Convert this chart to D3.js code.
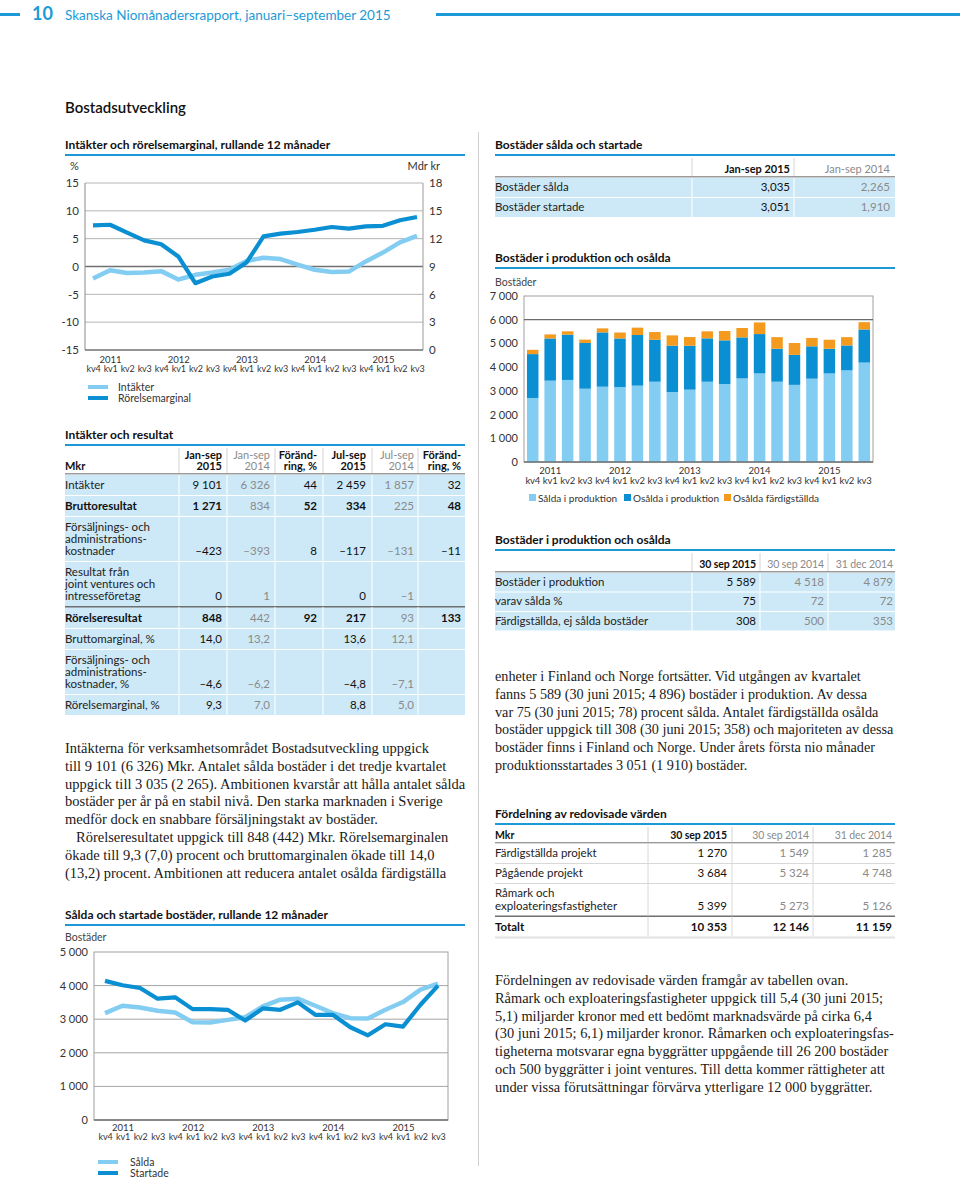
<!DOCTYPE html>
<html>
<head>
<meta charset="utf-8">
<script src="https://cdn.jsdelivr.net/npm/d3@7"></script>
<style>
  body { margin: 0; background: #fff; }
  svg { display: block; }
</style>
</head>
<body>
<svg id="page" width="960" height="1178"></svg>
<script>
// ---- data ----
var quarters = ["kv4","kv1","kv2","kv3","kv4","kv1","kv2","kv3","kv4","kv1","kv2","kv3","kv4","kv1","kv2","kv3","kv4","kv1","kv2","kv3"];
var years = ["2011","2012","2013","2014","2015"];

// Intäkter (Mdr kr, right axis) and rörelsemarginal (%, left axis), rullande 12 mån
var intakter = [7.7, 8.6, 8.3, 8.35, 8.5, 7.6, 8.1, 8.35, 8.65, 9.6, 9.95, 9.8, 9.2, 8.65, 8.4, 8.45, 9.55, 10.5, 11.6, 12.3];
var rorelsemarginal = [7.4, 7.5, 6.1, 4.7, 4.0, 1.8, -3.0, -1.8, -1.3, 0.7, 5.4, 5.9, 6.2, 6.6, 7.1, 6.8, 7.2, 7.3, 8.3, 8.9];

// Bostäder i produktion och osålda (stacked)
var saldaIProd   = [2700, 3430, 3460, 3090, 3175, 3160, 3220, 3385, 2950, 3050, 3385, 3290, 3525, 3735, 3385, 3253, 3513, 3735, 3865, 4192];
var osaldaIProd  = [1850, 1780, 1910, 1930, 2290, 2050, 2135, 1770, 1955, 1855, 1830, 1840, 1730, 1660, 1390, 1265, 1366, 1040, 1050, 1397];
var osaldaFardig = [ 180,  170,  140,  140,  170,  250,  310,  325,  435,  365,  295,  395,  395,  490,  490,  500,  353,  380,  350,  308];

// Sålda och startade bostäder, rullande 12 mån
var salda    = [3180, 3400, 3350, 3250, 3200, 2910, 2900, 2980, 3060, 3380, 3580, 3610, 3400, 3180, 3030, 3020, 3280, 3510, 3880, 4060];
var startade = [4140, 4010, 3930, 3610, 3650, 3300, 3300, 3280, 2960, 3320, 3280, 3500, 3130, 3130, 2760, 2520, 2850, 2780, 3430, 4000];

var soldHead = [["Jan-sep 2015"], ["Jan-sep 2014"]];
var soldRows = [
  {label: ["Bostäder sålda"], vals: ["3,035", "2,265"]},
  {label: ["Bostäder startade"], vals: ["3,051", "1,910"]}
];

var resHead = [["Jan-sep","2015"],["Jan-sep","2014"],["Föränd-","ring, %"],["Jul-sep","2015"],["Jul-sep","2014"],["Föränd-","ring, %"]];
var resRows = [
  {label: ["Intäkter"], vals: ["9 101","6 326","44","2 459","1 857","32"]},
  {label: ["Bruttoresultat"], vals: ["1 271","834","52","334","225","48"], bold: true},
  {label: ["Försäljnings- och","administrations-","kostnader"], vals: ["–423","–393","8","–117","–131","–11"]},
  {label: ["Resultat från","joint ventures och","intresseföretag"], vals: ["0","1","","0","–1",""]},
  {label: ["Rörelseresultat"], vals: ["848","442","92","217","93","133"], bold: true, rule: true},
  {label: ["Bruttomarginal, %"], vals: ["14,0","13,2","","13,6","12,1",""]},
  {label: ["Försäljnings- och","administrations-","kostnader, %"], vals: ["–4,6","–6,2","","–4,8","–7,1",""]},
  {label: ["Rörelsemarginal, %"], vals: ["9,3","7,0","","8,8","5,0",""]}
];

var prodHead = [["30 sep 2015"],["30 sep 2014"],["31 dec 2014"]];
var prodRows = [
  {label: ["Bostäder i produktion"], vals: ["5 589","4 518","4 879"]},
  {label: ["varav sålda %"], vals: ["75","72","72"]},
  {label: ["Färdigställda, ej sålda bostäder"], vals: ["308","500","353"]}
];

var fordHead = [["30 sep 2015"],["30 sep 2014"],["31 dec 2014"]];
var fordRows = [
  {label: ["Färdigställda projekt"], vals: ["1 270","1 549","1 285"]},
  {label: ["Pågående projekt"], vals: ["3 684","5 324","4 748"]},
  {label: ["Råmark och","exploateringsfastigheter"], vals: ["5 399","5 273","5 126"]},
  {label: ["Totalt"], vals: ["10 353","12 146","11 159"], bold: true, black: true, rule: true}
];

var textLeft = [
  "Intäkterna för verksamhetsområdet Bostadsutveckling uppgick",
  "till 9 101 (6 326) Mkr. Antalet sålda bostäder i det tredje kvartalet",
  "uppgick till 3 035 (2 265). Ambitionen kvarstår att hålla antalet sålda",
  "bostäder per år på en stabil nivå. Den starka marknaden i Sverige",
  "medför dock en snabbare försäljningstakt av bostäder.",
  "Rörelseresultatet uppgick till 848 (442) Mkr. Rörelsemarginalen",
  "ökade till 9,3 (7,0) procent och bruttomarginalen ökade till 14,0",
  "(13,2) procent. Ambitionen att reducera antalet osålda färdigställa"
];
var textRight1 = [
  "enheter i Finland och Norge fortsätter. Vid utgången av kvartalet",
  "fanns 5 589 (30 juni 2015; 4 896) bostäder i produktion. Av dessa",
  "var 75 (30 juni 2015; 78) procent sålda. Antalet färdigställda osålda",
  "bostäder uppgick till 308 (30 juni 2015; 358) och majoriteten av dessa",
  "bostäder finns i Finland och Norge. Under årets första nio månader",
  "produktionsstartades 3 051 (1 910) bostäder."
];
var textRight2 = [
  "Fördelningen av redovisade värden framgår av tabellen ovan.",
  "Råmark och exploateringsfastigheter uppgick till 5,4 (30 juni 2015;",
  "5,1) miljarder kronor med ett bedömt marknadsvärde på cirka 6,4",
  "(30 juni 2015; 6,1) miljarder kronor. Råmarken och exploateringsfas-",
  "tigheterna motsvarar egna byggrätter uppgående till 26 200 bostäder",
  "och 500 byggrätter i joint ventures. Till detta kommer rättigheter att",
  "under vissa förutsättningar förvärva ytterligare 12 000 byggrätter."
];

// ---- style ----
var SANS = "Lato, 'Open Sans', 'DejaVu Sans', sans-serif";
var SERIF = "'Liberation Serif', 'DejaVu Serif', serif";
var BLUE = "#1b9ad7", LIGHT = "#82cdf1", DARK = "#0b8fd3", ORANGE = "#f39a1f";
var CELL = "#cde9f8", GREY = "#8a8a8a", INK = "#222";

var loc = d3.formatLocale({decimal: ",", thousands: " ", grouping: [3], currency: ["", ""], minus: "-"});
var fmt = loc.format(",d");

var svg = d3.select("#page");

function txt(g, x, y, s, o) {
  o = o || {};
  return g.append("text")
    .attr("x", x).attr("y", y)
    .attr("font-family", o.family || SANS)
    .attr("font-size", o.size || 11.5)
    .attr("font-weight", o.bold ? "bold" : null)
    .attr("letter-spacing", o.ls || null)
    .attr("fill", o.fill || INK)
    .attr("text-anchor", o.anchor || "start")
    .text(s);
}

function sectionTitle(x, y, w, s) {
  txt(svg, x, y, s, {bold: true, size: 12, fill: "#111"});
  svg.append("rect").attr("x", x).attr("y", y + 5).attr("width", w).attr("height", 2).attr("fill", BLUE);
}

function styleAxis(g, size, ls) {
  g.select(".domain").remove();
  g.attr("font-family", SANS).attr("font-size", size || 11);
  g.selectAll("text").attr("fill", "#333").attr("letter-spacing", ls || null);
}

function drawTable(o) {
  var g = svg.append("g");
  var y = o.top;
  o.head.forEach(function(h, i) {
    var c = o.cols[i];
    h.forEach(function(line, j) {
      txt(g, c.r, y + o.headH - 4 - (h.length - 1 - j) * 11, line,
        {anchor: "end", bold: !c.grey, fill: c.grey ? GREY : "#111", size: o.headSize, ls: o.headLs});
    });
    g.append("line").attr("x1", c.sep).attr("x2", c.sep)
      .attr("y1", y + 1).attr("y2", y + o.headH).attr("stroke", "#d4d4d4");
  });
  if (o.headLabel) txt(g, o.x, y + o.headH - 4, o.headLabel, {bold: true, fill: "#111", size: o.headSize});
  y += o.headH;
  g.append("rect").attr("x", o.x).attr("y", y - 1).attr("width", o.w).attr("height", 1.5).attr("fill", "#9a9a9a");
  o.rows.forEach(function(r) {
    var h = o.rowH + o.lh * (r.label.length - 1);
    if (r.rule) {
      h += 1;
    }
    g.append("rect").attr("x", o.x).attr("y", y + 1).attr("width", o.w).attr("height", h - 1)
      .attr("fill", o.bg);
    if (r.rule) {
      g.append("rect").attr("x", o.x).attr("y", y).attr("width", o.w).attr("height", 1.5).attr("fill", "#6f6f6f");
    } else if (o.bg === "#fff") {
      g.append("line").attr("x1", o.x).attr("x2", o.x + o.w).attr("y1", y + 0.5).attr("y2", y + 0.5).attr("stroke", "#d8d8d8");
    }
    o.cols.forEach(function(c) {
      g.append("line").attr("x1", c.sep).attr("x2", c.sep).attr("y1", y + 1).attr("y2", y + h)
        .attr("stroke", o.bg === "#fff" ? "#d8d8d8" : "#fff");
    });
    var base = y + h - 6;
    r.label.forEach(function(line, j) {
      txt(g, o.x, base - (r.label.length - 1 - j) * o.lh, line, {bold: r.bold, fill: r.bold ? "#111" : INK});
    });
    r.vals.forEach(function(v, i) {
      var c = o.cols[i];
      var grey = c.grey && !r.black;
      txt(g, c.r, base, v, {anchor: "end", bold: r.bold && !grey, fill: grey ? GREY : "#111"});
    });
    y += h;
  });
  if (o.bottom) {
    g.append("rect").attr("x", o.x).attr("y", y).attr("width", o.w).attr("height", 2).attr("fill", "#e2e2e2");
  }
}

function paragraph(lines, x, y0, size, indentIdx) {
  lines.forEach(function(s, i) {
    txt(svg, x + (i === indentIdx ? 11 : 0), y0 + i * 17.8, s, {family: SERIF, size: size, fill: "#1a1a1a"});
  });
}

// ---- page header ----
svg.append("rect").attr("x", 0).attr("y", 13).attr("width", 20).attr("height", 3).attr("fill", BLUE);
svg.append("rect").attr("x", 436).attr("y", 13).attr("width", 524).attr("height", 3).attr("fill", BLUE);
txt(svg, 32, 20, "10", {bold: true, size: 18, fill: BLUE});
txt(svg, 65, 19.5, "Skanska Niomånadersrapport, januari–september 2015", {size: 13.5, fill: BLUE});
txt(svg, 65, 113, "Bostadsutveckling", {size: 15, fill: "#111"}).attr("font-weight", 600);

// column divider
svg.append("line").attr("x1", 478.5).attr("x2", 478.5).attr("y1", 132).attr("y2", 1166).attr("stroke", "#cfcfcf");

// ---- chart 1: Intäkter och rörelsemarginal ----
sectionTitle(65, 149, 400, "Intäkter och rörelsemarginal, rullande 12 månader");
var c1 = {l: 85, r: 423, t: 183, b: 350};
var x1 = d3.scalePoint().domain(d3.range(quarters.length)).range([93, 417]);
var yL = d3.scaleLinear().domain([-15, 15]).range([c1.b, c1.t]);
var yR = d3.scaleLinear().domain([0, 18]).range([c1.b, c1.t]);

txt(svg, 70, 170, "%", {size: 11, fill: "#333"});
txt(svg, 440, 170, "Mdr kr", {size: 11, fill: "#333", anchor: "end"});

svg.append("g").selectAll("line").data([-10, -5, 5, 10, 15]).enter().append("line")
  .attr("x1", c1.l).attr("x2", c1.r).attr("y1", function(d) { return yL(d); }).attr("y2", function(d) { return yL(d); })
  .attr("stroke", "#b5b5b5");
svg.append("line").attr("x1", c1.l).attr("x2", c1.r).attr("y1", yL(0)).attr("y2", yL(0)).attr("stroke", "#707070").attr("stroke-width", 1.3);
svg.append("line").attr("x1", c1.l).attr("x2", c1.l).attr("y1", c1.t).attr("y2", c1.b).attr("stroke", "#8a8a8a");
svg.append("line").attr("x1", c1.r).attr("x2", c1.r).attr("y1", c1.t).attr("y2", c1.b).attr("stroke", "#9a9a9a");
svg.append("line").attr("x1", c1.l).attr("x2", c1.r).attr("y1", c1.b).attr("y2", c1.b).attr("stroke", "#707070").attr("stroke-width", 1.3);

var aL = svg.append("g").attr("transform", "translate(" + c1.l + ",0)")
  .call(d3.axisLeft(yL).tickValues(d3.range(-15, 16, 5)).tickSize(0).tickPadding(6).tickFormat(loc.format("d")));
styleAxis(aL, 11.5);
var aR = svg.append("g").attr("transform", "translate(" + c1.r + ",0)")
  .call(d3.axisRight(yR).tickValues(d3.range(0, 19, 3)).tickSize(0).tickPadding(6).tickFormat(loc.format("d")));
styleAxis(aR, 11.5);

var q1 = svg.append("g").attr("transform", "translate(0," + c1.b + ")")
  .call(d3.axisBottom(x1).tickSize(0).tickPadding(16).tickFormat(function(i) { return quarters[i]; }));
styleAxis(q1, 9, -0.2);
var y1a = svg.append("g").attr("transform", "translate(0," + c1.b + ")")
  .call(d3.axisBottom(x1).tickValues([1, 5, 9, 13, 17]).tickSize(0).tickPadding(6)
    .tickFormat(function(i) { return years[(i - 1) / 4]; }));
styleAxis(y1a, 9.5);

svg.append("path").datum(intakter)
  .attr("d", d3.line().x(function(d, i) { return x1(i); }).y(function(d) { return yR(d); }))
  .attr("fill", "none").attr("stroke", LIGHT).attr("stroke-width", 4.5).attr("stroke-linejoin", "round");
svg.append("path").datum(rorelsemarginal)
  .attr("d", d3.line().x(function(d, i) { return x1(i); }).y(function(d) { return yL(d); }))
  .attr("fill", "none").attr("stroke", DARK).attr("stroke-width", 4.2).attr("stroke-linejoin", "round");

[["Intäkter", LIGHT], ["Rörelsemarginal", DARK]].forEach(function(d, i) {
  var yy = 387 + i * 11;
  svg.append("line").attr("x1", 88).attr("x2", 108).attr("y1", yy).attr("y2", yy).attr("stroke", d[1]).attr("stroke-width", 4);
  txt(svg, 118, yy + 4, d[0], {size: 10.5, fill: "#333"});
});

// ---- table: Bostäder sålda och startade ----
sectionTitle(495, 149, 400, "Bostäder sålda och startade");
drawTable({x: 495, w: 400, top: 157, headH: 20, rowH: 20, lh: 12, bg: CELL, headSize: 11,
  head: soldHead, rows: soldRows,
  cols: [{r: 790, sep: 692}, {r: 890, sep: 794, grey: true}]});

// ---- chart 2: Bostäder i produktion och osålda ----
sectionTitle(495, 262, 400, "Bostäder i produktion och osålda");
txt(svg, 495, 286, "Bostäder", {size: 10.5, fill: "#444"});
var c2 = {l: 524, r: 873, t: 296, b: 462};
var xb = d3.scaleBand().domain(d3.range(quarters.length)).range([c2.l, c2.r]).paddingInner(0.34).paddingOuter(0.17);
var yb = d3.scaleLinear().domain([0, 7000]).range([c2.b, c2.t]);
var stackRows = quarters.map(function(q, i) {
  return {i: i, s: saldaIProd[i], u: osaldaIProd[i], f: osaldaFardig[i]};
});
var series = d3.stack().keys(["s", "u", "f"])(stackRows);
var barColors = {s: LIGHT, u: DARK, f: ORANGE};

svg.append("rect").attr("x", c2.l).attr("y", c2.t).attr("width", c2.r - c2.l).attr("height", c2.b - c2.t)
  .attr("fill", "none").attr("stroke", "#a0a0a0");
svg.append("line").attr("x1", c2.l).attr("x2", c2.r).attr("y1", yb(6000)).attr("y2", yb(6000)).attr("stroke", "#6a6a6a").attr("stroke-width", 1.2);

svg.append("g").selectAll("g").data(series).enter().append("g")
  .attr("fill", function(d) { return barColors[d.key]; })
  .selectAll("rect").data(function(d) { return d; }).enter().append("rect")
  .attr("x", function(d) { return xb(d.data.i); })
  .attr("width", xb.bandwidth())
  .attr("y", function(d) { return yb(d[1]); })
  .attr("height", function(d) { return yb(d[0]) - yb(d[1]); });
svg.append("line").attr("x1", c2.l).attr("x2", c2.r).attr("y1", c2.b).attr("y2", c2.b).attr("stroke", "#707070").attr("stroke-width", 1.3);

var ab = svg.append("g").attr("transform", "translate(" + c2.l + ",0)")
  .call(d3.axisLeft(yb).tickValues(d3.range(0, 7001, 1000)).tickSize(0).tickPadding(6).tickFormat(fmt));
styleAxis(ab, 11);
var qb = svg.append("g").attr("transform", "translate(0," + c2.b + ")")
  .call(d3.axisBottom(xb).tickSize(0).tickPadding(15).tickFormat(function(i) { return quarters[i]; }));
styleAxis(qb, 9.5, -0.2);
var ybA = svg.append("g").attr("transform", "translate(0," + c2.b + ")")
  .call(d3.axisBottom(xb).tickValues([1, 5, 9, 13, 17]).tickSize(0).tickPadding(5)
    .tickFormat(function(i) { return years[(i - 1) / 4]; }));
styleAxis(ybA, 9.5);

[["Sålda i produktion", LIGHT, 529], ["Osålda i produktion", DARK, 624], ["Osålda färdigställda", ORANGE, 724]].forEach(function(d) {
  svg.append("rect").attr("x", d[2]).attr("y", 494).attr("width", 7).attr("height", 7).attr("fill", d[1]);
  txt(svg, d[2] + 9, 502, d[0], {size: 10, fill: "#333"});
});

// ---- table: Intäkter och resultat ----
sectionTitle(65, 439, 400, "Intäkter och resultat");
drawTable({x: 65, w: 400, top: 447, headH: 27, rowH: 21, lh: 12, bg: CELL, headLabel: "Mkr", headSize: 11,
  head: resHead, rows: resRows,
  cols: [{r: 222, sep: 179}, {r: 270, sep: 227, grey: true}, {r: 317, sep: 275},
         {r: 366, sep: 323}, {r: 414, sep: 372, grey: true}, {r: 461, sep: 418}]});

// ---- table: Bostäder i produktion och osålda ----
sectionTitle(495, 544, 400, "Bostäder i produktion och osålda");
drawTable({x: 495, w: 400, top: 552, headH: 20, rowH: 19.5, lh: 12, bg: CELL, headSize: 10.5, headLs: -0.1,
  head: prodHead, rows: prodRows,
  cols: [{r: 756, sep: 692}, {r: 824, sep: 760, grey: true}, {r: 893, sep: 828, grey: true}]});

// ---- table: Fördelning av redovisade värden ----
sectionTitle(495, 818, 400, "Fördelning av redovisade värden");
drawTable({x: 495, w: 400, top: 826, headH: 17, rowH: 20, lh: 12.5, bg: "#fff", headLabel: "Mkr", bottom: true,
  headSize: 10.5, headLs: -0.1,
  head: fordHead, rows: fordRows,
  cols: [{r: 727, sep: 648}, {r: 809, sep: 732, grey: true}, {r: 892, sep: 813, grey: true}]});

// ---- body text ----
paragraph(textLeft, 65, 753, 14.5, 5);
paragraph(textRight1, 495, 681, 14.2, -1);
paragraph(textRight2, 495, 985, 14.4, -1);

// ---- chart 3: Sålda och startade bostäder ----
sectionTitle(65, 919, 400, "Sålda och startade bostäder, rullande 12 månader");
txt(svg, 65, 941, "Bostäder", {size: 10.5, fill: "#444"});
var c3 = {l: 94, r: 448, t: 952, b: 1120};
var x3 = d3.scalePoint().domain(d3.range(quarters.length)).range([105, 438]);
var y3 = d3.scaleLinear().domain([0, 5000]).range([c3.b, c3.t]);

svg.append("g").selectAll("line").data([1000, 2000, 3000, 4000]).enter().append("line")
  .attr("x1", c3.l).attr("x2", c3.r).attr("y1", function(d) { return y3(d); }).attr("y2", function(d) { return y3(d); })
  .attr("stroke", "#a5a5a5");
svg.append("rect").attr("x", c3.l).attr("y", c3.t).attr("width", c3.r - c3.l).attr("height", c3.b - c3.t)
  .attr("fill", "none").attr("stroke", "#a0a0a0");
svg.append("line").attr("x1", c3.l).attr("x2", c3.r).attr("y1", c3.b).attr("y2", c3.b).attr("stroke", "#707070").attr("stroke-width", 1.3);

var a3 = svg.append("g").attr("transform", "translate(" + c3.l + ",0)")
  .call(d3.axisLeft(y3).tickValues(d3.range(0, 5001, 1000)).tickSize(0).tickPadding(6).tickFormat(fmt));
styleAxis(a3, 11);
var q3 = svg.append("g").attr("transform", "translate(0," + c3.b + ")")
  .call(d3.axisBottom(x3).tickSize(0).tickPadding(14).tickFormat(function(i) { return quarters[i]; }));
styleAxis(q3, 9, -0.2);
var y3a = svg.append("g").attr("transform", "translate(0," + c3.b + ")")
  .call(d3.axisBottom(x3).tickValues([1, 5, 9, 13, 17]).tickSize(0).tickPadding(4)
    .tickFormat(function(i) { return years[(i - 1) / 4]; }));
styleAxis(y3a, 9.5);

svg.append("path").datum(salda)
  .attr("d", d3.line().x(function(d, i) { return x3(i); }).y(function(d) { return y3(d); }))
  .attr("fill", "none").attr("stroke", LIGHT).attr("stroke-width", 4.5).attr("stroke-linejoin", "round");
svg.append("path").datum(startade)
  .attr("d", d3.line().x(function(d, i) { return x3(i); }).y(function(d) { return y3(d); }))
  .attr("fill", "none").attr("stroke", DARK).attr("stroke-width", 4.2).attr("stroke-linejoin", "round");

[["Sålda", LIGHT], ["Startade", DARK]].forEach(function(d, i) {
  var yy = 1162 + i * 11;
  svg.append("line").attr("x1", 98).attr("x2", 118).attr("y1", yy).attr("y2", yy).attr("stroke", d[1]).attr("stroke-width", 4);
  txt(svg, 130, yy + 4, d[0], {size: 10.5, fill: "#333"});
});
</script>
</body>
</html>
